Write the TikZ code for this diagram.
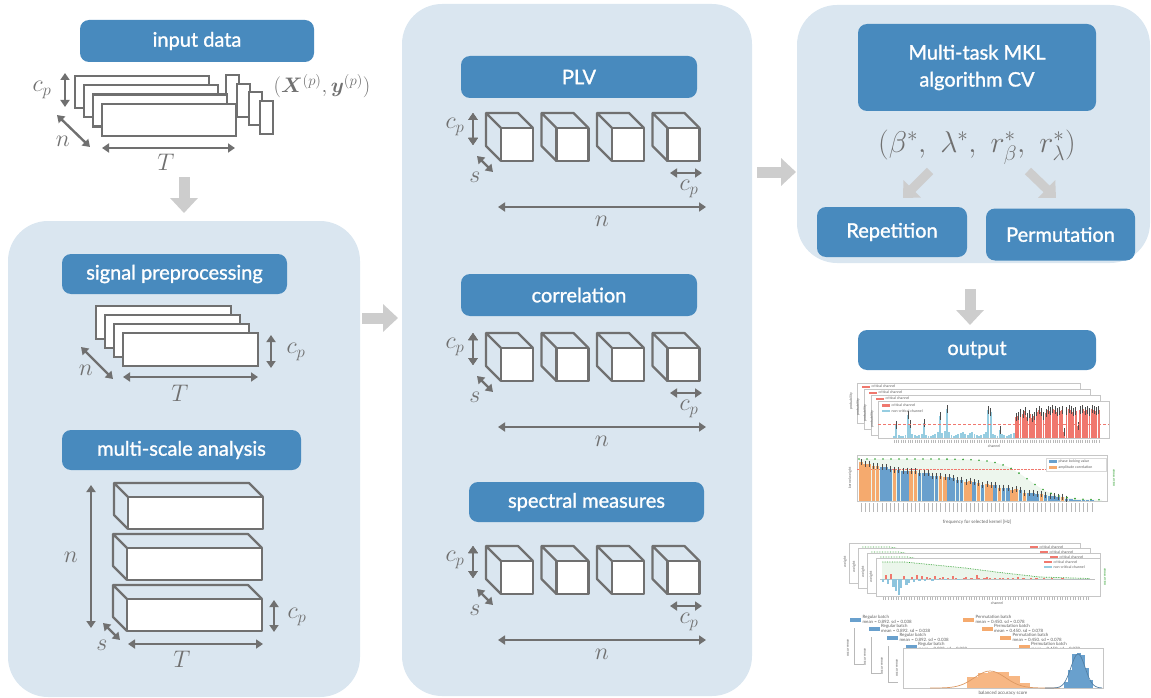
\RequirePackage{fix-cm}
\documentclass[tikz,border=0pt]{standalone}
\usepackage{amsmath,bm}
\usepackage{fontspec}
\setsansfont{Lato}
\newfontfamily\headfont{Lato}[FakeBold=1.3]
\usetikzlibrary{arrows.meta}

\definecolor{panelbg}{RGB}{218,230,240}
\definecolor{boxblue}{RGB}{72,138,190}
\definecolor{ink}{RGB}{112,112,112}
\definecolor{flowgrey}{RGB}{205,205,205}
\definecolor{critred}{RGB}{240,120,110}
\definecolor{noncrit}{RGB}{150,205,225}
\definecolor{plvblue}{RGB}{105,160,205}
\definecolor{amporange}{RGB}{245,170,110}
\definecolor{occgreen}{RGB}{50,160,50}

\tikzset{
  panel/.style={fill=panelbg, rounded corners=40pt},
  titlebox/.style={fill=boxblue, rounded corners=9pt, text=white, align=center,
    font=\headfont\fontsize{20}{27}\selectfont},
  sheet/.style={draw=ink, line width=2.2pt, fill=white},
  face/.style={draw=ink, line width=2.2pt, line join=round},
  dim/.style={draw=ink, line width=2.4pt,
    {Triangle[length=7pt,width=9pt]}-{Triangle[length=7pt,width=9pt]}},
  lbl/.style={text=ink, inner sep=0pt, font=\fontsize{24}{28}\selectfont},
  flow/.style={draw=flowgrey, line width=11pt, -{Triangle[length=15pt,width=27pt]}},
  card/.style={draw=gray!45, line width=0.5pt, fill=white},
  tiny/.style={font=\sffamily\fontsize{3.6}{4.3}\selectfont, text=gray!75!black, inner sep=0.4pt},
  errbar/.style={draw=gray!60!black, line width=0.4pt},
  ticks/.style={draw=gray!55, line width=0.3pt},
}

% 3d block: front top-left (#1,#2), width #3, height #4, depth #5
\newcommand{\slab}[5]{%
  \draw[face, fill=white] (#1,#2) rectangle ++(#3,#4);
  \draw[face] (#1,#2+#4) -- ++(-#5,-#5) -- ++(0,-#4) -- ++(#3,0) -- (#1+#3,#2)
    (#1,#2) -- ++(-#5,-#5);
}

\begin{document}
\begin{tikzpicture}[x=1pt, y=-1pt]
\useasboundingbox (0,0) rectangle (1151,698);

% background panels
\fill[panel] (8,221) rectangle (360,697);
\fill[panel] (402,4) rectangle (752,696);
\fill[panel] (797,5) rectangle (1150,263);

% headings
\node[titlebox, minimum width=234pt, minimum height=42pt] (input) at (197,41) {input data};
\node[titlebox, minimum width=225pt, minimum height=40pt] (sigprep) at (174.5,274) {signal preprocessing};
\node[titlebox, minimum width=239pt, minimum height=40pt] (multiscale) at (181.5,450) {multi-scale analysis};
\node[titlebox, minimum width=236pt, minimum height=42pt] (plv) at (579,77) {PLV};
\node[titlebox, minimum width=236pt, minimum height=42pt] (corr) at (579,295) {correlation};
\node[titlebox, minimum width=235pt, minimum height=40pt] (spec) at (586.5,502) {spectral measures};
\node[titlebox, minimum width=238pt, minimum height=87pt] (mkl) at (977,67.5) {Multi-task MKL\\algorithm CV};
\node[titlebox, minimum width=150pt, minimum height=50pt] (rep) at (892,232) {Repetition};
\node[titlebox, minimum width=149pt, minimum height=52pt] (perm) at (1060.5,234.5) {Permutation};
\node[titlebox, minimum width=238pt, minimum height=40pt] (output) at (977,350) {output};

% input data: trials with labels
\foreach \i in {0,...,3}
  \draw[sheet] (226+11.3*\i,75+8.7*\i) rectangle ++(13,33);
\foreach \i in {0,...,3}
  \draw[sheet] (75+9*\i,76+9.3*\i) rectangle ++(134,32);
\draw[dim] (65,73) -- (65,107);
\node[lbl] (cpin) at (42,90) {$c_p$};
\draw[dim] (57,115) -- (90,147);
\node[lbl] (nin) at (63,141) {$n$};
\draw[dim] (102,148) -- (235,148);
\node[lbl] (Tin) at (166,162) {$T$};
\node[lbl, font=\fontsize{21}{24}\selectfont] (xy) at (322,86) {$(\bm{X}^{(p)},\bm{y}^{(p)})$};

% signal preprocessing
\foreach \i in {0,...,3}
  \draw[sheet] (96+9*\i,306+9*\i) rectangle ++(135,33);
\draw[dim] (271,335) -- (271,368);
\node[lbl] (cppre) at (296,352) {$c_p$};
\draw[dim] (81,347) -- (113,379);
\node[lbl] (npre) at (86,370) {$n$};
\draw[dim] (123,377) -- (258,377);
\node[lbl] (Tpre) at (180,393) {$T$};

% multi-scale analysis
\slab{128}{497}{135}{32}{14}
\slab{127}{548}{135}{32}{14}
\slab{127}{599}{135}{32}{14}
\draw[dim] (91,485) -- (91,628);
\node[lbl] (nms) at (71,557) {$n$};
\draw[dim] (103,623) -- (120,640);
\node[lbl] (sms) at (102,645) {$s$};
\draw[dim] (128,644) -- (263,644);
\node[lbl] (Tms) at (182,659) {$T$};
\draw[dim] (274,600) -- (274,632);
\node[lbl] (cpms) at (297,617) {$c_p$};

% connectivity cubes, one row per measure
\foreach \dy in {0,220,433} {
  \foreach \cx in {501,556.5,612,667.5}
    \slab{\cx}{128+\dy}{32}{33}{15}
  \draw[dim] (473,113+\dy) -- (473,145+\dy);
  \node[lbl] (cp-\dy) at (455,127+\dy) {$c_p$};
  \draw[dim] (477,156+\dy) -- (493,172+\dy);
  \node[lbl] (s-\dy) at (475,177+\dy) {$s$};
  \draw[dim] (670,173+\dy) -- (702,173+\dy);
  \node[lbl] (cpr-\dy) at (689,189+\dy) {$c_p$};
  \draw[dim] (498,207+\dy) -- (706,207+\dy);
  \node[lbl] (n-\dy) at (602,221+\dy) {$n$};
}

% optimal parameters
\node[lbl, font=\fontsize{30}{34}\selectfont] (params) at (977,147)
  {$(\beta^*,\ \lambda^*,\ r_\beta^*,\ r_\lambda^*)$};

% flow arrows
\coordinate (a1) at (184,177);
\coordinate (a2) at (184,213);
\coordinate (b1) at (362,318);
\coordinate (b2) at (398,318);
\coordinate (c1) at (757,172);
\coordinate (c2) at (796,172);
\coordinate (d1) at (970,289);
\coordinate (d2) at (970,325);
\draw[flow] (a1) -- (a2);
\draw[flow] (b1) -- (b2);
\draw[flow] (c1) -- (c2);
\draw[flow] (d1) -- (d2);
\draw[flow, line width=9pt, -{Triangle[length=13pt,width=24pt]}] (930,171) -- (903,198);
\draw[flow, line width=9pt, -{Triangle[length=13pt,width=24pt]}] (1028,171) -- (1056,198);

% ---- output: channel probabilities
\foreach \k in {0,1,2} {
  \draw[card] (857+7*\k,383+6*\k) rectangle ++(223+3*\k,40);
  \fill[critred] (862+7*\k,385.5+6*\k) rectangle ++(8,2.2);
  \node[tiny, anchor=west] at (871+7*\k,386.6+6*\k) {critical channel};
  \node[tiny, rotate=90] at (851+7*\k,401+6*\k) {probability};
}
\draw[card] (878,401) rectangle (1109,438);
\node[tiny, rotate=90] (probf) at (872,419) {probability};
\foreach \h [count=\i from 0] in {2,13,3,2,2,3,23,14,4,3,2,3,4,15,3,2,2,3,4,6,22,5,7,29,6,3,2,3,4,5,6,4,3,5,6,4,3,2,3,4,6,28,26,4,3,2,8,4,3,2,3,4,5} {
  \fill[noncrit] (893+2.3*\i,438) rectangle ++(1.9,-\h);
  \ifdim\h pt>7pt \draw[errbar] (893.95+2.3*\i,438-\h-4) -- ++(0,8); \fi
}
\foreach \h [count=\i from 53] in {21,22,25,24,27,21,24,20,22,26,28,26,22,25,28,27,29,28,26,27,28,6,27,29,28,26,27,12,28,29,27,28,26,29,28,27,28} {
  \fill[critred] (893+2.3*\i,438) rectangle ++(1.9,-\h);
  \draw[errbar] (893.95+2.3*\i,438-\h-4) -- ++(0,8);
}
\draw[critred, densely dashed, line width=0.4pt] (878,424) -- (1109,424);
\fill[critred] (882,404) rectangle ++(8,2.5);
\node[tiny, anchor=west] at (891,405.3) {critical channel};
\fill[noncrit] (882,409.5) rectangle ++(8,2.5);
\node[tiny, anchor=west] at (891,410.8) {non-critical channel};
\foreach \i in {0,...,89}
  \draw[ticks] (893.95+2.3*\i,439.5) -- ++(0,3.5);
\node[tiny] (chan1) at (994,446) {channel};

% ---- output: kernel weights and occurrence
\draw[card] (857,455) rectangle (1107,501);
\fill[occgreen!9] (859,501) -- plot[domain=859:1102, samples=50]
  (\x,{459+41/(1+exp(-max(-8,min(8,(\x-1028)/14))))}) -- (1102,501) -- cycle;
\draw[critred, densely dotted, line width=0.4pt] (857,469) -- (1107,469);
\pgfmathsetseed{11}
\foreach \c [count=\i from 0] in {o,o,o,o,o,b,b,b,o,b,b,b,o,o,b,b,b,b,b,o,o,b,b,b,b,o,o,b,o,b,o,o,b,o,b,b,o,o,b,o,b,b,b,o,b,b,b,b,o,b,b,b,b,b,b,b} {
  \pgfmathsetmacro\h{max(0.6,38*(1-\i/52)+1.5*rand)}
  \if\c o\def\bc{amporange}\else\def\bc{plvblue}\fi
  \fill[\bc] (859+4.2*\i,501) rectangle ++(3.5,-\h);
  \ifdim\h pt>2pt \draw[errbar] (860.75+4.2*\i,501-\h-3) -- ++(0,6); \fi
  \draw[ticks] (860.75+4.2*\i,503) -- ++(0,9);
}
\foreach \j in {0,...,30} {
  \pgfmathsetmacro\gx{859+8*\j}
  \pgfmathsetmacro\gy{459+41/(1+exp(-max(-8,min(8,(\gx-1028)/14))))}
  \fill[occgreen] (\gx,\gy) circle (0.9);
}
\draw[card, draw=gray!30] (1046,458) rectangle (1106,471);
\fill[plvblue] (1049,460) rectangle ++(8,3);
\node[tiny, anchor=west] at (1058,461.5) {phase locking value};
\fill[amporange] (1049,466) rectangle ++(8,3);
\node[tiny, anchor=west] at (1058,467.5) {amplitude correlation};
\node[tiny, rotate=90] (kw) at (850,478) {kernel weight};
\node[tiny, rotate=90, text=occgreen] (occ2) at (1114,478) {occurrence};
\node[tiny, font=\sffamily\fontsize{4.6}{5.5}\selectfont] (freq) at (977,522) {frequency for selected kernel [Hz]};

% ---- output: channel weights
\foreach \k in {0,1,2} {
  \draw[card] (849+9*\k,543+5*\k) rectangle ++(231+\k,40);
  \draw[occgreen, densely dotted, line width=0.6pt] (862+9*\k,547+5*\k) -- ++(28,0) -- ++(6,1);
  \fill[critred] (1030+10*\k,545.8+5*\k) rectangle ++(8,2.2);
  \node[tiny, anchor=west] at (1039+10*\k,547+5*\k) {critical channel};
  \node[tiny, rotate=90] at (845+9*\k,562+5*\k) {weight};
}
\draw[card] (876,558) rectangle (1100,596);
\fill[occgreen!10] (882,579) -- (882,562) -- (905,562) -- (935,565) -- (965,568)
  -- (1000,572.5) -- (1040,577) -- (1090,578.5) -- (1090,579) -- cycle;
\draw[occgreen, densely dotted, line width=0.7pt] (882,562) -- (905,562) -- (935,565)
  -- (965,568) -- (1000,572.5) -- (1040,577) -- (1090,578.5);
\draw[gray!50, line width=0.3pt] (880,579) -- (1095,579);
\foreach \h [count=\i from 0] in {-3,4,-5,5,-8,-12,-16,-9,3,-6,-4,2,-3,4,-2,3,-2,2,1,-2,3,-1,1,2,-1,1,0,3,1,-1,0,1,2,0,1,0,4,1,0,1,2,1,0,1,0,1,1,0,1,0,1,0,2,0,1,0,0,1,0,1,0,0,1,0,0,1,0,0,0,1,0,0,0,0,0,0,0,0,0,0} {
  \ifdim\h pt>0pt
    \fill[critred] (882+2.6*\i,579) rectangle ++(2.1,-\h);
  \else
    \fill[noncrit!80!plvblue] (882+2.6*\i,579) rectangle ++(2.1,-\h);
  \fi
  \draw[ticks] (883+2.6*\i,597) -- ++(0,3);
}
\fill[critred] (1044,560.5) rectangle ++(8,2.3);
\node[tiny, anchor=west] at (1053,561.7) {critical channel};
\fill[noncrit] (1044,566) rectangle ++(8,2.3);
\node[tiny, anchor=west] at (1053,567.2) {non-critical channel};
\node[tiny, rotate=90] (wf) at (871,577) {weight};
\node[tiny, rotate=90, text=occgreen] (occ3) at (1105,577) {occurrence};
\node[tiny] (chan2) at (997,603) {channel};

% ---- output: accuracy distributions
\foreach \k in {0,1,2} {
  \draw[gray!55, line width=0.4pt] (854+17*\k,628+9*\k) -- ++(0,36) -- ++(10,0);
  \node[tiny, rotate=90] at (848+17*\k,648+9*\k) {occurrence};
}
\foreach \k in {0,...,3} {
  \fill[white] (849+18.5*\k,614+9*\k) rectangle ++(222,11.5);
  \fill[plvblue] (850+18.5*\k,618+9*\k) rectangle ++(11,3.5);
  \node[tiny, anchor=north west, align=left, font=\sffamily\fontsize{4.4}{5.2}\selectfont]
    at (862+18.5*\k,614.5+9*\k) {Regular batch\\mean = 0.892, sd = 0.038};
  \fill[amporange] (963+18.5*\k,618+9*\k) rectangle ++(11,3.5);
  \node[tiny, anchor=north west, align=left, font=\sffamily\fontsize{4.4}{5.2}\selectfont]
    at (975+18.5*\k,614.5+9*\k) {Permutation batch\\mean = 0.450, sd = 0.078};
}
\draw[card] (903,648) rectangle (1103,688);
\foreach \h [count=\i from 0] in {11,15,16,16,12,5}
  \fill[amporange!85] (967+10.5*\i,688) rectangle ++(10.5,-\h);
\draw[amporange!90!black, line width=0.7pt] plot[domain=930:1060, samples=40]
  (\x,{688-17*exp(-((\x-990)/22)*((\x-990)/22))});
\foreach \h [count=\i from 0] in {6,18,34,35,33,20,8}
  \fill[plvblue] (1064+4.2*\i,688) rectangle ++(4.2,-\h);
\draw[plvblue!80!black, line width=0.7pt] plot[domain=1045:1102, samples=40]
  (\x,{688-34*exp(-((\x-1078)/10)*((\x-1078)/10))});
\node[tiny, rotate=90] (occ4) at (897,668) {occurrence};
\node[tiny, font=\sffamily\fontsize{4.6}{5.5}\selectfont] (bacc) at (1003,693) {balanced accuracy score};
\end{tikzpicture}
\end{document}
